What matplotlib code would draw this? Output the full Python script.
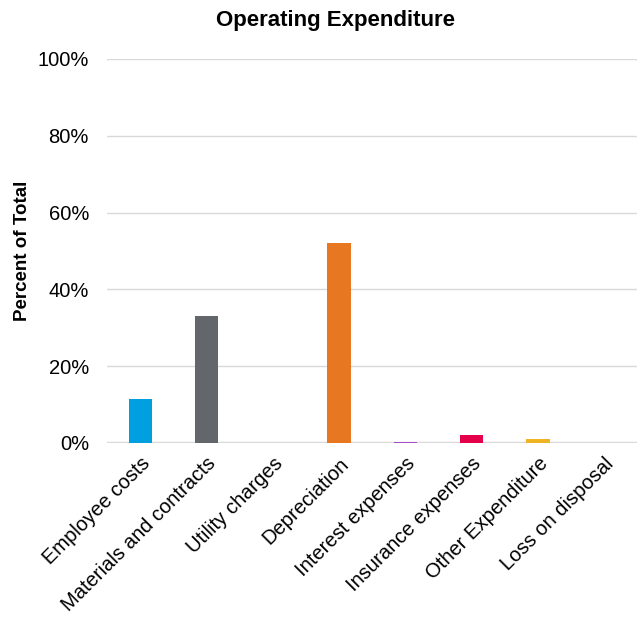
import matplotlib.pyplot as plt
from matplotlib.ticker import PercentFormatter

plt.rcParams['font.family'] = ['Liberation Sans', 'DejaVu Sans']

categories = ['Employee costs', 'Materials and contracts', 'Utility charges',
              'Depreciation', 'Interest expenses', 'Insurance expenses',
              'Other Expenditure', 'Loss on disposal']
share = [11.5, 33.1, 0.0, 52.1, 0.35, 2.1, 1.1, 0.0]
colors = ['#009FDF', '#63666A', '#00B2A9', '#E87722', '#A54ECA',
          '#E4004B', '#F0B323', '#7AB800']

fig = plt.figure(figsize=(6.39, 6.2), dpi=100)
ax = fig.add_axes([0.1675, 0.2855, 0.83, 0.6195])

x = range(len(categories))
ax.bar(x, share, width=0.35, color=colors, zorder=3)

ax.set_xlim(-0.5, len(categories) - 0.5)
ax.set_ylim(0, 100)
ax.set_yticks([0, 20, 40, 60, 80, 100])
ax.yaxis.set_major_formatter(PercentFormatter(decimals=0))
ax.grid(axis='y', color='#D9D9D9', linewidth=1, zorder=0)
ax.axhline(0, color='#D9D9D9', linewidth=2.5, zorder=2)
for s in ax.spines.values():
    s.set_visible(False)
ax.tick_params(length=0, labelsize=14.5)
ax.tick_params(axis='x', pad=8)
ax.tick_params(axis='y', pad=13)
ax.set_xticks(list(x))
ax.set_xticklabels(categories, rotation=45, ha='right', rotation_mode='anchor')

ax.set_ylabel('Percent of Total', fontsize=13.5, fontweight='bold', labelpad=5)
fig.text(0.525, 0.967, 'Operating Expenditure', fontsize=16, fontweight='bold',
         ha='center', va='center')

fig.savefig('out.png', dpi=100)
